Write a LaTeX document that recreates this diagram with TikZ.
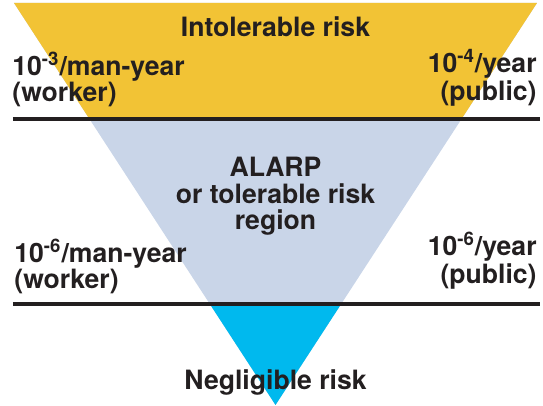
\documentclass[tikz,border=0pt]{standalone}
\usepackage{fontspec}
\setmainfont{TeX Gyre Heros}
\usepackage{tikz}
\usetikzlibrary{positioning, calc}

\definecolor{intolyellow}{HTML}{F2C335}
\definecolor{alarpgrey}{HTML}{C9D5E8}
\definecolor{negligcyan}{HTML}{00B9EE}
\definecolor{inkdark}{HTML}{231F20}

\begin{document}
\begin{tikzpicture}[x=0.5pt, y=0.5pt, font=\fontsize{13.3}{12.8}\selectfont\bfseries, text=inkdark]
    \tikzstyle{region} = [inner sep=0pt, anchor=base, align=center]
    \tikzstyle{leftlbl} = [inner sep=0pt, anchor=base west, align=left]
    \tikzstyle{rightlbl} = [inner sep=0pt, anchor=base east, align=right]
    \tikzstyle{limit} = [line width=1.6pt, draw=inkdark]

    \useasboundingbox (0,0) rectangle (543,406);

    % the inverted triangle
    \coordinate (tl) at (14,403);
    \coordinate (tr) at (537,403);
    \coordinate (apex) at (275.5,1);

    \fill[alarpgrey] (tl) -- (tr) -- (apex) -- cycle;
    \begin{scope}
        \clip (tl) -- (tr) -- (apex) -- cycle;
        \fill[intolyellow] (0,287) rectangle (543,406);
        \fill[negligcyan] (0,0) rectangle (543,102);
    \end{scope}

    % boundary lines
    \coordinate (hiL) at (13,287);
    \coordinate (hiR) at (540,287);
    \coordinate (loL) at (13,102);
    \coordinate (loR) at (540,102);
    \draw[limit] (hiL) -- (hiR);
    \draw[limit] (loL) -- (loR);

    % region names (base = last line)
    \node (intolerable) [region] at (275.5,369) {Intolerable risk};
    \node (alarp) [region, font=\fontsize{13.3}{13.3}\selectfont\bfseries] at (275.5,176) {ALARP\\or tolerable risk\\region};
    \node (negligible) [region] at (275.5,16) {Negligible risk};

    % limits
    \node (workerhigh) [leftlbl] at (12,304.5) {10\textsuperscript{-3}/man-year\\(worker)};
    \node (publichigh) [rightlbl] at (537,305.5) {10\textsuperscript{-4}/year\\(public)};
    \node (workerlow) [leftlbl] at (14,117.5) {10\textsuperscript{-6}/man-year\\(worker)};
    \node (publiclow) [rightlbl] at (537,122.5) {10\textsuperscript{-6}/year\\(public)};
\end{tikzpicture}
\end{document}
